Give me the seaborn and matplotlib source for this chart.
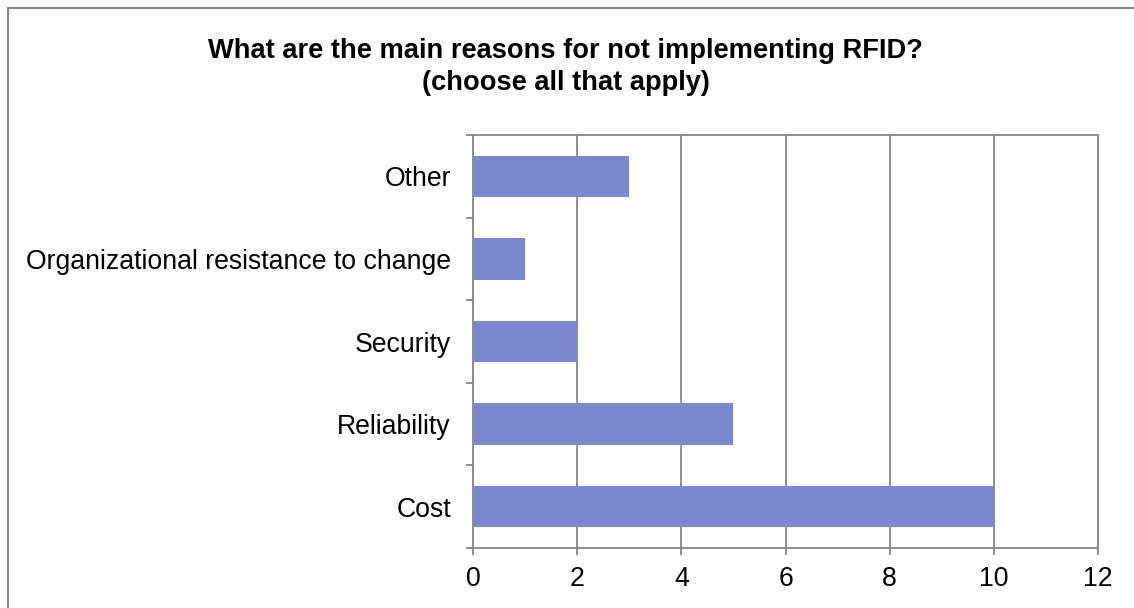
import matplotlib
matplotlib.use("Agg")
import matplotlib.pyplot as plt
import seaborn as sns
import pandas as pd
from matplotlib.patches import Rectangle

categories = ["Other", "Organizational resistance to change", "Security", "Reliability", "Cost"]
values = [3, 1, 2, 5, 10]
x_ticks = [0, 2, 4, 6, 8, 10, 12]
title = "What are the main reasons for not implementing RFID?\n(choose all that apply)"

sns.set_theme(style="white")
plt.rcParams['font.family'] = ['Liberation Sans', 'DejaVu Sans']
tick_fs = 19.2
title_fs = 19.6

W, H = 1134, 608
fig = plt.figure(figsize=(W / 100, H / 100), dpi=100)
ax = fig.add_axes([473 / W, 1 - 548 / H, (1098 - 473) / W, (548 - 135) / H])

df = pd.DataFrame({"category": categories, "value": values})
sns.barplot(data=df, x="value", y="category", orient="h", color="#7A89CE",
            saturation=1, width=0.5, ax=ax, zorder=3, linewidth=0)

grid_c = "#868686"
ax.set_xlim(0, 12)
ax.set_ylim(len(categories) - 0.5, -0.5)
ax.set_xticks(x_ticks)
ax.set_xticklabels([str(t) for t in x_ticks])
ax.set_xlabel("")
ax.set_ylabel("")
ax.xaxis.grid(True, color=grid_c, linewidth=1.3, zorder=0)
ax.set_axisbelow(True)
for s in ax.spines.values():
    s.set_visible(True)
    s.set_color(grid_c)
    s.set_linewidth(1.3)

ax.tick_params(axis="x", which="major", length=5, width=1.3, color=grid_c,
               direction="out", pad=8, labelsize=tick_fs, labelcolor="black", bottom=True)
ax.tick_params(axis="y", which="major", length=0, pad=16, labelsize=tick_fs, labelcolor="black")
ax.set_yticks([i - 0.5 for i in range(len(categories) + 1)], minor=True)
ax.tick_params(axis="y", which="minor", length=5, width=1.3, color=grid_c, direction="out", left=True)

fig.text(0.499, 1 - 67 / H, title, ha="center", va="center", fontsize=title_fs,
         fontweight="bold", color="black", linespacing=1.3)

fig.patches.append(Rectangle((7.5 / W, -0.1), 2, (H - 7.5) / H + 0.1, transform=fig.transFigure,
                             fill=False, edgecolor=grid_c, linewidth=1.5, clip_on=False))

fig.savefig("out.png", dpi=100)
